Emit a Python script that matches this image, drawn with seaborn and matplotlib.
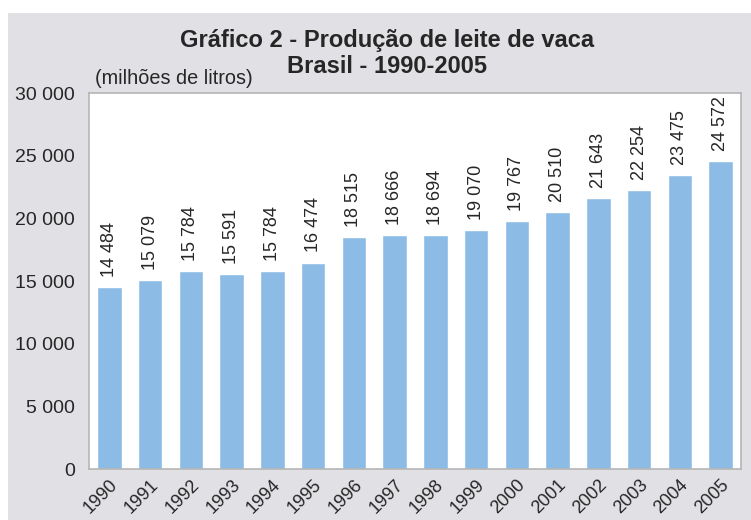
import numpy as np
import pandas as pd
import seaborn as sns
import matplotlib.pyplot as plt
from matplotlib.patches import Rectangle

# Produção de leite de vaca, Brasil 1990-2005 (milhões de litros)
anos = [str(a) for a in range(1990, 2006)]
producao = [14484, 15079, 15784, 15591, 15784, 16474, 18515, 18666,
            18694, 19070, 19767, 20510, 21643, 22254, 23475, 24572]
yticks = [0, 5000, 10000, 15000, 20000, 25000, 30000]

df = pd.DataFrame({'Ano': anos, 'Producao': producao})


def fmt(v):
    return f"{v:,}".replace(",", " ")


sns.set_style('white')
plt.rcParams['font.family'] = ['Liberation Sans', 'DejaVu Sans']

fig = plt.figure(figsize=(7.51, 5.2), dpi=100)
fig.patch.set_facecolor('white')
fig.patches.append(Rectangle((8 / 751, 0), 1, 1 - 13 / 520, transform=fig.transFigure,
                             facecolor='#e1e1e5', edgecolor='none', zorder=-10))

ax = fig.add_axes([89 / 751, 1 - 469 / 520, (741 - 89) / 751, (469 - 93) / 520])
sns.barplot(data=df, x='Ano', y='Producao', color='#8cbbe6', saturation=1,
            width=0.6, ax=ax)
ax.set_facecolor('white')
ax.set_ylim(0, 30000)
ax.set_xlim(-0.5, len(anos) - 0.5)
ax.set_yticks(yticks)
ax.set_yticklabels([fmt(v) for v in yticks], fontsize=14)
ax.set_xticks(np.arange(len(anos)))
ax.set_xticklabels(anos, rotation=45, ha='right', rotation_mode='anchor', fontsize=13)
ax.set_xlabel('')
ax.set_ylabel('')

# ticks at category boundaries
ax.set_xticks(np.arange(len(anos) + 1) - 0.5, minor=True)
ax.tick_params(axis='x', which='major', length=0, pad=5)
ax.tick_params(axis='x', which='minor', length=6, color='#aaaaaa', width=1.2)
ax.tick_params(axis='y', length=6, color='#aaaaaa', width=1.2, pad=4)

for s in ax.spines.values():
    s.set_color('#b5b5b5')
    s.set_linewidth(1.2)

for i, v in enumerate(producao):
    ax.text(i, v + 800, fmt(v), rotation=90, ha='center', va='bottom', fontsize=13)

fig.text(0.515, 1 - 47 / 520, 'Gráfico 2 - Produção de leite de vaca',
         ha='center', va='baseline', fontsize=17, fontweight='bold')
fig.text(0.515, 1 - 73 / 520, 'Brasil - 1990-2005',
         ha='center', va='baseline', fontsize=17, fontweight='bold')
fig.text(95 / 751, 1 - 78 / 520, '(milhões de litros)', ha='left', va='center', fontsize=14.3)

fig.savefig('out.png', dpi=100)
